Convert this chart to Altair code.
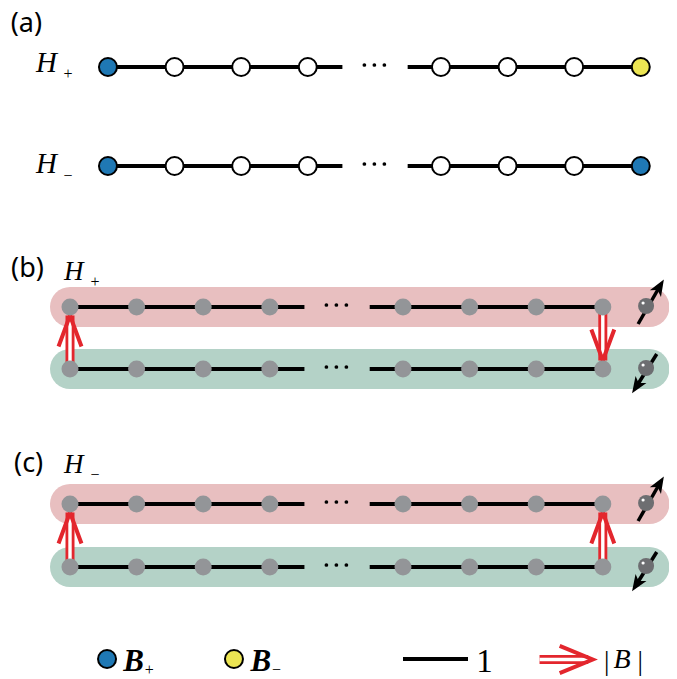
import altair as alt
import pandas as pd

# ---------------- data (schematic in "site units" along x, page rows along y) ----------------
SITE_IDX = [0, 1, 2, 3, 5, 6, 7, 8]            # sites 1..4 and N-3..N of the chain
DOTS_IDX = [3.85, 4.0, 4.15]                   # ellipsis between the two halves
BONDS = [(0.0, 3.52), (4.5, 8.0)]              # hopping bonds (strength 1)
PANEL_A_SHIFT = 0.57

ROWS_A = ["H+", "H-"]
ROW_A_V = [67, 166]
SITE_FILL_A = {
    "H+": ["blue", "white", "white", "white", "white", "white", "white", "yellow"],
    "H-": ["blue", "white", "white", "white", "white", "white", "white", "blue"],
}

PANELS_BC = ["b", "c"]
ROW_TOP_V = [307, 504]     # spin-up chain (pink)
ROW_BOT_V = [369, 567]     # spin-down chain (green)
COUPLING = {"b": [(0, "up"), (8, "down")], "c": [(0, "up"), (8, "up")]}
SPIN_U = 8.65
BAND_END_U = 8.7

COLORS = {"blue": "#1f78b4", "yellow": "#ece553", "white": "#ffffff",
          "pink": "#e8bfc0", "green": "#b4d2c7", "site": "#939598",
          "ball": "#6d6e71", "red": "#e3262d"}

# ---------------- scales ----------------
PX0, PX_PER_U = 70.0, 66.6
W, H = 661, 671
XMIN = (8 - PX0) / PX_PER_U
XS = alt.Scale(domain=[XMIN, XMIN + W / PX_PER_U], nice=False, zero=False)
YS = alt.Scale(domain=[8, 8 + H], reverse=True, nice=False, zero=False)


def X(f="u"):
    return alt.X(f"{f}:Q", scale=XS, axis=None)


def Y(f="v"):
    return alt.Y(f"{f}:Q", scale=YS, axis=None)


# ---------------- build tables ----------------
sites_a, bonds, dots, bands, sites_bc = [], [], [], [], []
for row, v in zip(ROWS_A, ROW_A_V):
    for i, c in zip(SITE_IDX, SITE_FILL_A[row]):
        sites_a.append({"u": i + PANEL_A_SHIFT, "v": v, "fill": COLORS[c]})
    for a, b in BONDS:
        bonds.append({"u": a + PANEL_A_SHIFT, "u2": b + PANEL_A_SHIFT, "v": v})
    for d in DOTS_IDX:
        dots.append({"u": d + PANEL_A_SHIFT, "v": v})

shafts, chevrons, spin_lines, spin_heads, balls = [], [], [], [], []
for p, top, bot in zip(PANELS_BC, ROW_TOP_V, ROW_BOT_V):
    for v, col in ((top, "pink"), (bot, "green")):
        bands.append({"u": 0, "u2": BAND_END_U, "v": v, "c": COLORS[col]})
        for i in SITE_IDX:
            sites_bc.append({"u": i, "v": v})
        for a, b in BONDS:
            bonds.append({"u": a, "u2": b, "v": v})
        for d in DOTS_IDX:
            dots.append({"u": d, "v": v})
        balls.append({"u": SPIN_U, "v": v - 1})
    for i, direction in COUPLING[p]:
        if direction == "up":
            apex = top + 8.5
            shafts.append({"u": i, "v": bot, "v2": apex})
            chevrons.append({"u": i, "v": apex + 15.5, "ang": 0})
        else:
            apex = bot - 8.5
            shafts.append({"u": i, "v": top, "v2": apex})
            chevrons.append({"u": i, "v": apex - 15.5, "ang": 180})
    spin_lines.append({"u": 8.53, "v": top + 17, "u2": 8.85, "v2": top - 20})
    spin_heads.append({"u": 8.85, "v": top - 20, "ang": 31})
    spin_lines.append({"u": 8.81, "v": bot - 15, "u2": 8.51, "v2": bot + 17})
    spin_heads.append({"u": 8.51, "v": bot + 17, "ang": 213})

# legend
LEG_V = 659
leg_circles = [{"u": 0.556, "v": LEG_V, "fill": COLORS["blue"]},
               {"u": 2.462, "v": LEG_V, "fill": COLORS["yellow"]}]
leg_bond = [{"u": 5.0, "u2": 5.976, "v": LEG_V}]
leg_shaft = [{"u": 7.05, "u2": 7.78, "v": LEG_V + 0.5}]
leg_chev = [{"u": 7.6, "v": LEG_V + 0.5, "ang": 90}]

panel_labels = [{"u": -0.89, "v": 32, "t": "(a)"},
                {"u": -0.885, "v": 277, "t": "(b)"},
                {"u": -0.84, "v": 472, "t": "(c)"}]
h_big = [{"u": -0.51, "v": 72, "t": "H"}, {"u": -0.51, "v": 173, "t": "H"}]
h_small = [{"u": -0.09, "v": 280, "t": "H"}, {"u": -0.09, "v": 473, "t": "H"}]
subs = [{"u": -0.03, "v": 74, "t": "+"}, {"u": -0.03, "v": 176, "t": "−"},
        {"u": 0.375, "v": 282, "t": "+"}, {"u": 0.375, "v": 475, "t": "−"},
        {"u": 1.19, "v": 670, "t": "+"}, {"u": 3.10, "v": 670, "t": "−"}]
b_labels = [{"u": 0.80, "v": 671, "t": "B"}, {"u": 2.71, "v": 671, "t": "B"}]
one_label = [{"u": 6.10, "v": 672, "t": "1"}]
abs_bars = [{"u": 8.06, "v": 670, "t": "|"}, {"u": 8.56, "v": 670, "t": "|"}]
abs_b = [{"u": 8.16, "v": 668, "t": "B"}]

D = lambda rows: alt.Data(values=rows)

CHEV_PATH = "M-0.74,1L0,-1L0.74,1"
HEAD_PATH = "M0,-1L0.75,0.9L0,0.4L-0.75,0.9Z"

layers = []
# bands
layers.append(alt.Chart(D(bands)).mark_rule(strokeWidth=40, strokeCap="round").encode(
    x=X(), x2="u2:Q", y=Y(), color=alt.Color("c:N", scale=None)))
# bonds
layers.append(alt.Chart(D(bonds + leg_bond)).mark_rule(strokeWidth=4, color="black").encode(
    x=X(), x2="u2:Q", y=Y()))
# ellipsis
layers.append(alt.Chart(D(dots)).mark_circle(size=14, color="black", opacity=1, yOffset=-2).encode(
    x=X(), y=Y()))
# red coupling arrows
layers.append(alt.Chart(D(shafts)).mark_rule(strokeWidth=9, color=COLORS["red"]).encode(
    x=X(), y=Y(), y2="v2:Q"))
layers.append(alt.Chart(D(shafts)).mark_rule(strokeWidth=3.4, color="white").encode(
    x=X(), y=Y(), y2="v2:Q"))
layers.append(alt.Chart(D(chevrons)).mark_point(
    shape=CHEV_PATH, size=961, filled=False, stroke=COLORS["red"], strokeWidth=4,
    strokeJoin="miter", opacity=1).encode(x=X(), y=Y(), angle=alt.Angle("ang:Q", scale=None)))
# legend red arrow
layers.append(alt.Chart(D(leg_shaft)).mark_rule(strokeWidth=9, color=COLORS["red"]).encode(
    x=X(), x2="u2:Q", y=Y()))
layers.append(alt.Chart(D(leg_shaft)).mark_rule(strokeWidth=3.4, color="white").encode(
    x=X(), x2="u2:Q", y=Y()))
layers.append(alt.Chart(D(leg_chev)).mark_point(
    shape="M-0.82,1L0,-1L0.82,1", size=1089, filled=False, stroke=COLORS["red"], strokeWidth=4,
    strokeJoin="miter", opacity=1).encode(x=X(), y=Y(), angle=alt.Angle("ang:Q", scale=None)))
# gray sites
layers.append(alt.Chart(D(sites_bc)).mark_circle(size=289, color=COLORS["site"], opacity=1).encode(
    x=X(), y=Y()))
# spins
layers.append(alt.Chart(D(spin_lines)).mark_rule(strokeWidth=3.5, color="black").encode(
    x=X(), x2="u2:Q", y=Y(), y2="v2:Q"))
layers.append(alt.Chart(D(spin_heads)).mark_point(
    shape=HEAD_PATH, size=300, filled=True, color="black", opacity=1).encode(
    x=X(), y=Y(), angle=alt.Angle("ang:Q", scale=None)))
layers.append(alt.Chart(D(balls)).mark_circle(size=256, color=COLORS["ball"], opacity=1).encode(
    x=X(), y=Y()))
layers.append(alt.Chart(D(balls)).mark_circle(size=10, color="white", opacity=1,
                                               xOffset=-3, yOffset=-3).encode(x=X(), y=Y()))
# panel (a) sites and legend circles
layers.append(alt.Chart(D(sites_a + leg_circles)).mark_point(
    shape="circle", size=324, filled=True, stroke="black", strokeWidth=2, opacity=1).encode(
    x=X(), y=Y(), fill=alt.Fill("fill:N", scale=None)))

# texts
def txt(rows, **kw):
    base = dict(align="left", baseline="alphabetic", color="black")
    base.update(kw)
    return alt.Chart(D(rows)).mark_text(**base).encode(x=X(), y=Y(), text="t:N")

layers.append(txt(panel_labels, font="Noto Sans", fontSize=27))
layers.append(txt(h_big, font="Liberation Serif", fontStyle="italic", fontSize=29))
layers.append(txt(h_small, font="Liberation Serif", fontStyle="italic", fontSize=27))
layers.append(txt(subs, font="Liberation Serif", fontSize=16, align="center", baseline="middle"))
layers.append(txt(b_labels, font="Liberation Serif", fontStyle="italic", fontWeight="bold", fontSize=31))
layers.append(txt(one_label, font="Liberation Serif", fontSize=33))
layers.append(txt(abs_bars, font="Liberation Serif", fontSize=27, align="center"))
layers.append(txt(abs_b, font="Liberation Serif", fontStyle="italic", fontSize=28))

chart = alt.layer(*layers).properties(
    width=W, height=H, padding=0, autosize=alt.AutoSizeParams(type="none"),
    background="white"
).configure_view(stroke=None)

chart.save("out.html", embed_options={"renderer": "svg", "actions": False})
